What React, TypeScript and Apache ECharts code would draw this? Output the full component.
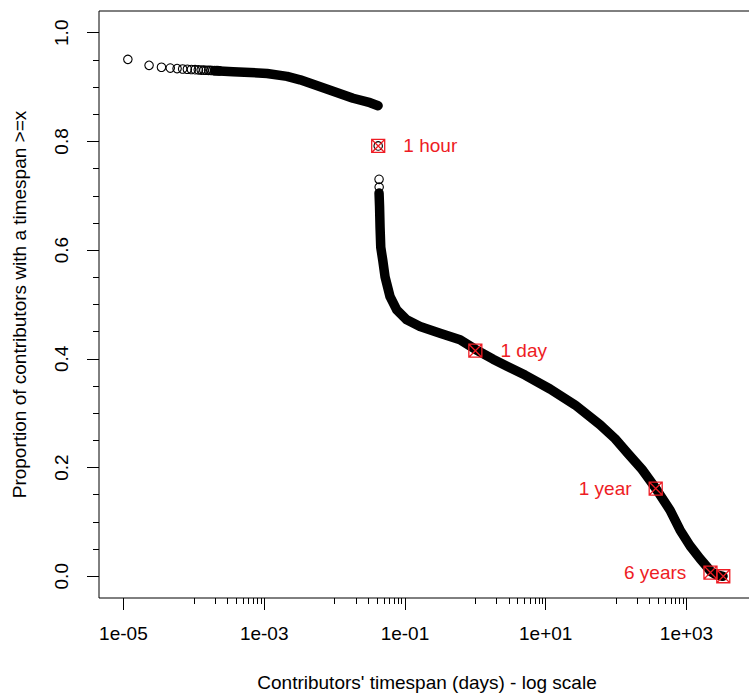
import React, { useEffect, useRef } from 'react';
import * as echarts from 'echarts';

// Discrete short timespans (seconds expressed in days) drawn as open circles
const circleX = [1.157e-5, 2.315e-5, 3.472e-5, 4.63e-5, 5.787e-5, 6.944e-5, 8.102e-5, 9.259e-5, 1.042e-4, 1.157e-4, 1.273e-4, 1.389e-4, 1.505e-4, 1.62e-4, 1.736e-4, 1.852e-4, 1.968e-4, 2.083e-4, 2.199e-4, 2.315e-4, 0.04167, 0.04286, 0.043];
const circleY = [0.951, 0.9400, 0.9365, 0.9350, 0.9340, 0.9333, 0.9328, 0.9324, 0.9320, 0.9317, 0.9314, 0.9312, 0.9310, 0.9308, 0.9306, 0.9305, 0.9304, 0.9303, 0.9302, 0.9300, 0.7917, 0.7303, 0.716];

// Dense part below one hour
const band1X = [2.0e-4, 3.61e-4, 6.31e-4, 1.10e-3, 2.11e-3, 3.24e-3, 4.95e-3, 9.53e-3, 1.83e-2, 3.19e-2, 4.15e-2];
const band1Y = [0.9301, 0.9283, 0.9270, 0.9251, 0.9197, 0.9133, 0.9051, 0.8923, 0.8795, 0.8713, 0.8658];

// Dense part above one hour
const band2X = [0.04286, 0.04357, 0.04429, 0.0453, 0.04838, 0.05215, 0.06144, 0.07646, 0.1061, 0.1639, 0.3151, 0.6065, 1.0, 1.784, 2.82, 5.08, 11.51, 26.08, 59.06, 96.5, 147.6, 233.3, 365, 583, 808, 1121, 1555, 1892, 2228, 2624, 3300];
const band2Y = [0.705, 0.68, 0.6421, 0.6053, 0.5813, 0.5509, 0.5143, 0.49, 0.4718, 0.4596, 0.4473, 0.4353, 0.4176, 0.3993, 0.3865, 0.3701, 0.3445, 0.3153, 0.2788, 0.2532, 0.2258, 0.1966, 0.1619, 0.1218, 0.0852, 0.0561, 0.0323, 0.0195, 0.0086, 0.0031, 0.0];

// Highlighted reference timespans
const markerX = [0.04167, 1, 365, 2190, 3330];
const markerY = [0.7917, 0.415, 0.1614, 0.0068, 0.0];
const markerLabels = ['1 hour', '1 day', '1 year', '6 years', ''];

// Axis ticks
const xTickValues = [1e-5, 1e-3, 1e-1, 1e1, 1e3];
const xTickLabels = ['1e-05', '1e-03', '1e-01', '1e+01', '1e+03'];
const xMinorTicks = [1e-4, 2e-4, 3e-4, 4e-4, 5e-4, 6e-4, 7e-4, 8e-4, 9e-4, 1e-2, 2e-2, 3e-2, 4e-2, 5e-2, 6e-2, 7e-2, 8e-2, 9e-2, 1, 2, 3, 4, 5, 6, 7, 8, 9, 100, 200, 300, 400, 500, 600, 700, 800, 900];
const yTickValues = [0, 0.2, 0.4, 0.6, 0.8, 1.0];
const yTickLabels = ['0.0', '0.2', '0.4', '0.6', '0.8', '1.0'];
const yMinorTicks = [0.05, 0.1, 0.15, 0.25, 0.3, 0.35, 0.45, 0.5, 0.55, 0.65, 0.7, 0.75, 0.85, 0.9, 0.95];

const X_MIN = 4.5e-6;
const X_MAX = 9400;
const Y_MIN = -0.04;
const Y_MAX = 1.04;

const FONT = 'Liberation Sans, Arial, sans-serif';
const RED = '#ee1c24';

export default function App() {
  const ref = useRef<HTMLDivElement>(null);
  useEffect(() => {
    if (!ref.current) return;
    const chart = echarts.init(ref.current, undefined, { renderer: 'svg' });
    const boxPath = 'path://M0 0H12V12H0Z M0 0L12 12 M12 0L0 12';
    const option: any = {
      animation: false,
      backgroundColor: '#fff',
      textStyle: { fontFamily: FONT },
      grid: {
        left: 99, top: 11, right: 5, bottom: 94,
        show: true, borderColor: '#000', borderWidth: 1, backgroundColor: 'transparent',
      },
      xAxis: [
        {
          type: 'log', logBase: 10, min: X_MIN, max: X_MAX, position: 'bottom',
          axisLine: { show: false, onZero: false }, splitLine: { show: false }, minorTick: { show: false },
          axisTick: { show: true, length: 12, customValues: xTickValues, lineStyle: { color: '#000', width: 1 } },
          axisLabel: {
            show: true, customValues: xTickValues, margin: 26, fontSize: 19, color: '#000', fontFamily: FONT,
            formatter: (v: number) => {
              let best = 0; let bd = Infinity;
              xTickValues.forEach((t, i) => { const d = Math.abs(Math.log10(v) - Math.log10(t)); if (d < bd) { bd = d; best = i; } });
              return xTickLabels[best];
            },
          },
          name: "Contributors' timespan (days) - log scale",
          nameLocation: 'middle', nameGap: 75,
          nameTextStyle: { fontSize: 19, color: '#000', fontFamily: FONT },
        },
        {
          type: 'log', logBase: 10, min: X_MIN, max: X_MAX, position: 'bottom',
          axisLine: { show: false, onZero: false }, splitLine: { show: false },
          axisTick: { show: true, length: 6, customValues: xMinorTicks, lineStyle: { color: '#000', width: 1 } },
          axisLabel: { show: false },
        },
      ],
      yAxis: [
        {
          type: 'value', min: Y_MIN, max: Y_MAX, position: 'left',
          axisLine: { show: false, onZero: false }, splitLine: { show: false },
          axisTick: { show: true, length: 12, customValues: yTickValues, lineStyle: { color: '#000', width: 1 } },
          axisLabel: {
            show: true, customValues: yTickValues, rotate: 90, margin: 28, fontSize: 19, color: '#000', fontFamily: FONT,
            formatter: (v: number) => {
              let best = 0; let bd = Infinity;
              yTickValues.forEach((t, i) => { const d = Math.abs(v - t); if (d < bd) { bd = d; best = i; } });
              return yTickLabels[best];
            },
          },
          name: 'Proportion of contributors with a timespan >=x',
          nameLocation: 'middle', nameGap: 70,
          nameTextStyle: { fontSize: 19, color: '#000', fontFamily: FONT },
        },
        {
          type: 'value', min: Y_MIN, max: Y_MAX, position: 'left',
          axisLine: { show: false, onZero: false }, splitLine: { show: false },
          axisTick: { show: true, length: 6, customValues: yMinorTicks, lineStyle: { color: '#000', width: 1 } },
          axisLabel: { show: false },
        },
      ],
      series: [
        {
          type: 'line', xAxisIndex: 0, yAxisIndex: 0, showSymbol: false, silent: true, z: 2,
          data: band1X.map((x, i) => [x, band1Y[i]]),
          lineStyle: { color: '#000', width: 9.5, cap: 'round', join: 'round' },
        },
        {
          type: 'line', xAxisIndex: 0, yAxisIndex: 0, showSymbol: false, silent: true, z: 2,
          data: band2X.map((x, i) => [x, band2Y[i]]),
          lineStyle: { color: '#000', width: 9.5, cap: 'round', join: 'round' },
        },
        {
          type: 'scatter', xAxisIndex: 0, yAxisIndex: 0, silent: true, z: 3,
          symbol: 'circle', symbolSize: 8.5,
          itemStyle: { color: 'rgba(0,0,0,0)', borderColor: '#000', borderWidth: 1.1, opacity: 1 },
          data: circleX.map((x, i) => [x, circleY[i]]),
        },
        {
          type: 'scatter', xAxisIndex: 0, yAxisIndex: 0, silent: true, z: 5,
          symbol: boxPath, symbolSize: 13,
          itemStyle: { color: 'rgba(0,0,0,0)', borderColor: RED, borderWidth: 1.3, opacity: 1 },
          data: markerX.map((x, i) => ({
            value: [x, markerY[i]],
            name: markerLabels[i],
            label: {
              show: markerLabels[i] !== '',
              position: i < 2 ? 'right' : 'left',
              distance: i < 2 ? 18 : 17,
              formatter: '{b}',
              color: RED, fontSize: 19, fontFamily: FONT, opacity: 1,
            },
          })),
        },
      ],
    };
    chart.setOption(option);
    return () => chart.dispose();
  }, []);
  return <div ref={ref} style={{ position: 'fixed', left: 0, top: 0, width: 760, height: 697, background: '#fff' }} />;
}
